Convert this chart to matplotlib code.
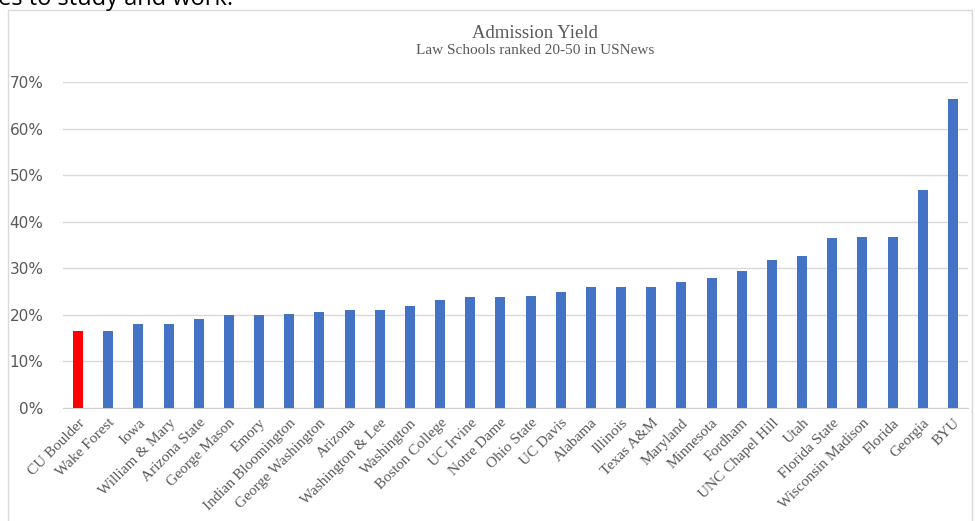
import matplotlib.pyplot as plt
from matplotlib.patches import Rectangle
from matplotlib.ticker import PercentFormatter

schools = ["CU Boulder", "Wake Forest", "Iowa", "William & Mary", "Arizona State",
           "George Mason", "Emory", "Indian Bloomington", "George Washington", "Arizona",
           "Washington & Lee", "Washington", "Boston College", "UC Irvine", "Notre Dame",
           "Ohio State", "UC Davis", "Alabama", "Illinois", "Texas A&M",
           "Maryland", "Minnesota", "Fordham", "UNC Chapel Hill", "Utah",
           "Florida State", "Wisconsin Madison", "Florida", "Georgia", "BYU"]
yield_rate = [0.165, 0.165, 0.180, 0.180, 0.191,
              0.200, 0.200, 0.202, 0.206, 0.210,
              0.210, 0.219, 0.232, 0.238, 0.238,
              0.240, 0.249, 0.260, 0.260, 0.260,
              0.270, 0.279, 0.294, 0.318, 0.326,
              0.365, 0.367, 0.367, 0.469, 0.663]
highlight = "CU Boulder"

colors = ["#FF0000" if s == highlight else "#4472C4" for s in schools]

fig = plt.figure(figsize=(9.75, 5.21), dpi=100)
ax = fig.add_axes([63 / 975, 1 - 408 / 521, 905 / 975, 326 / 521])

ax.bar(range(len(schools)), yield_rate, width=0.33, color=colors, zorder=3)

ax.set_xlim(-0.5, len(schools) - 0.5)
ax.set_ylim(0, 0.7)
ax.set_yticks([i / 10 for i in range(8)])
ax.yaxis.set_major_formatter(PercentFormatter(1.0, decimals=0))
ax.grid(axis="y", color="#d9d9d9", linewidth=1, zorder=0)
for side in ["top", "right", "left"]:
    ax.spines[side].set_visible(False)
ax.spines["bottom"].set_color("#d0d0d0")
ax.tick_params(axis="both", length=0)
ax.tick_params(axis="y", labelsize=11, labelcolor="#595959", pad=14)

ax.set_xticks(range(len(schools)))
ax.set_xticklabels(schools, rotation=45, ha="right", rotation_mode="anchor",
                   family="Liberation Serif", fontsize=11, color="#595959")
ax.tick_params(axis="x", pad=6)

fig.text(535 / 975, 1 - 33 / 521, "Admission Yield", ha="center", va="center",
         family="Liberation Serif", fontsize=13.5, color="#595959")
fig.text(535 / 975, 1 - 51 / 521, "Law Schools ranked 20-50 in USNews", ha="center",
         va="center", family="Liberation Serif", fontsize=11, color="#595959")

# chart frame and the cut-off document text above it
fig.patches.append(Rectangle((8 / 975, -0.01), 964 / 975, 1.01 - 10 / 521,
                             transform=fig.transFigure, fill=False,
                             edgecolor="#d9d9d9", linewidth=1))
fig.text(-2 / 975, 1 - 5 / 521, "es to study and work.", ha="left", va="baseline",
         family="Open Sans", fontsize=17, color="black")

fig.savefig("out.png", dpi=100)
